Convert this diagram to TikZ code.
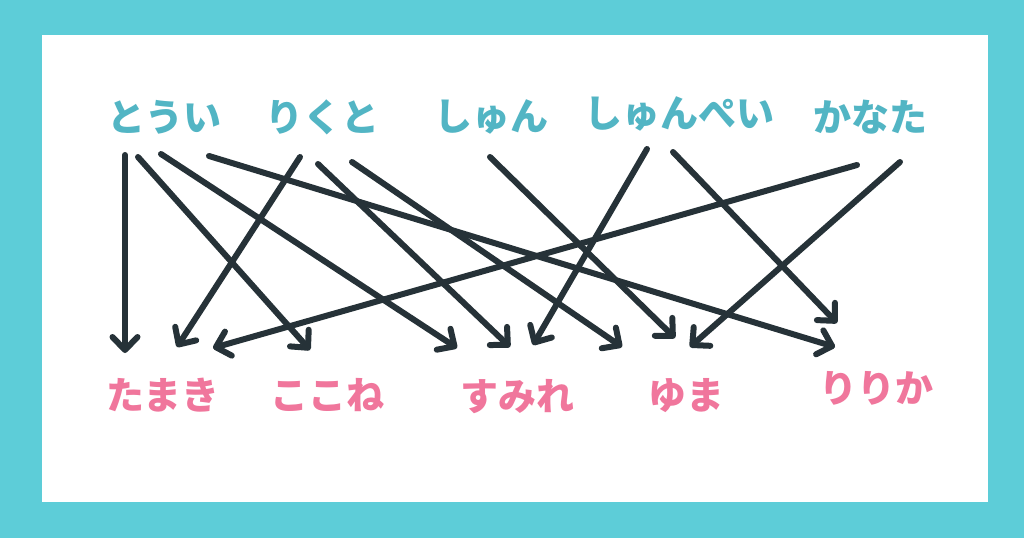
\documentclass[tikz,border=0pt]{standalone}
\usepackage{fontspec}
\newfontfamily\jpfont{Noto Sans CJK JP}
\usetikzlibrary{arrows.meta}
\definecolor{frameteal}{HTML}{5DCDD8}
\definecolor{topteal}{HTML}{52B5C4}
\definecolor{namepink}{HTML}{F0769C}
\definecolor{linedark}{HTML}{263238}
\tikzset{
  topname/.style={text=topteal, font=\jpfont\bfseries\fontsize{38}{42}\selectfont, inner sep=0pt},
  botname/.style={text=namepink, font=\jpfont\bfseries\fontsize{38}{42}\selectfont, inner sep=0pt},
  link/.style={draw=linedark, line width=6pt, line cap=round,
    -{Straight Barb[length=13pt, width=25pt, round]}}
}
\begin{document}
\begin{tikzpicture}[x=1pt,y=-1pt]
\useasboundingbox (0,0) rectangle (1024,538);
\fill[frameteal] (0,0) rectangle (1024,538);
\fill[white] (42,35) rectangle (988,502);
% names
\node[topname] (toui) at (164,117) {とうい};
\node[topname] (rikuto) at (322,117) {りくと};
\node[topname] (shun) at (491,117) {しゅん};
\node[topname] (shunpei) at (679,114) {しゅんぺい};
\node[topname] (kanata) at (870,117) {かなた};
\node[botname] (tamaki) at (163,395) {たまき};
\node[botname] (kokone) at (327,395) {ここね};
\node[botname] (sumire) at (517,397) {すみれ};
\node[botname] (yuma) at (686,396) {ゆま};
\node[botname] (ririka) at (876,388) {りりか};
% start points
\coordinate (s1) at (125,155);
\coordinate (s2) at (138,157);
\coordinate (s3) at (161,154);
\coordinate (s4) at (209,156);
\coordinate (s5) at (300,157);
\coordinate (s6) at (318,164);
\coordinate (s7) at (352,162);
\coordinate (s8) at (490,157);
\coordinate (s9) at (647,149);
\coordinate (s10) at (673,152);
\coordinate (s11) at (857,165);
\coordinate (s12) at (900,162);
% end points
\coordinate (e1) at (125,353);
\coordinate (e2) at (310,350);
\coordinate (e3) at (457,348);
\coordinate (e4) at (835,347);
\coordinate (e5) at (177,347);
\coordinate (e6) at (510,347);
\coordinate (e7) at (622,347);
\coordinate (e8) at (675,338);
\coordinate (e9) at (533,345);
\coordinate (e10) at (837,323);
\coordinate (e11) at (213,348);
\coordinate (e12) at (690,347);
% connectors
\foreach \i in {1,...,12} {\draw[link] (s\i) -- (e\i);}
\end{tikzpicture}
\end{document}
